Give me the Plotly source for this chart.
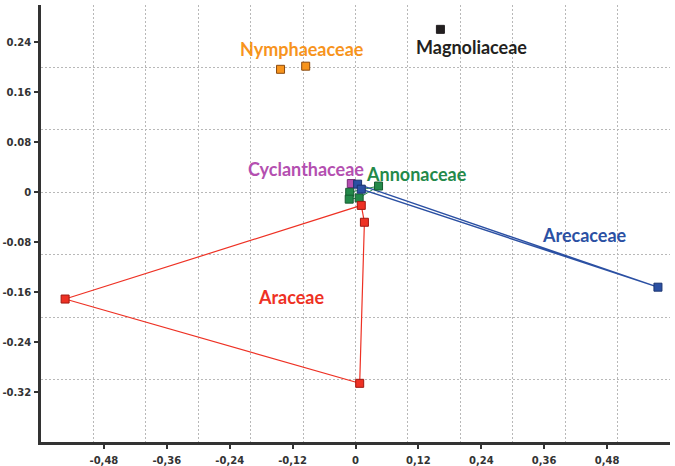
import plotly.graph_objects as go

# ---- data ----
nym_x = [-0.143, -0.095]
nym_y = [0.197, 0.202]
mag_x = [0.162]
mag_y = [0.261]
cyc_x = [-0.008]
cyc_y = [0.014]
ann_x = [-0.011, -0.012, 0.007, 0.044]
ann_y = [0.000, -0.011, -0.009, 0.010]
are_x = [0.004, 0.011, 0.577]
are_y = [0.013, 0.005, -0.152]
ara_x = [-0.554, 0.011, 0.017, 0.008]
ara_y = [-0.171, -0.021, -0.048, -0.306]

# hull orders (closed polygons)
ara_hull = [0, 1, 2, 3, 0]
are_hull = [0, 2, 1, 0]
ann_hull = [0, 3, 2, 1, 0]

x_ticks = [-0.48, -0.36, -0.24, -0.12, 0, 0.12, 0.24, 0.36, 0.48]
x_ticktext = ["-0,48", "-0,36", "-0,24", "-0,12", "0", "0,12", "0,24", "0,36", "0,48"]
y_ticks = [0.24, 0.16, 0.08, 0, -0.08, -0.16, -0.24, -0.32]
y_ticktext = ["0.24", "0.16", "0.08", "0", "-0.08", "-0.16", "-0.24", "-0.32"]
x_grid = [-0.5, -0.4, -0.3, -0.2, -0.1, 0, 0.1, 0.2, 0.3, 0.4, 0.5, 0.6]
y_grid = [-0.3, -0.2, -0.1, 0, 0.1, 0.2, 0.3]

labels = ["Nymphaeaceae", "Magnoliaceae", "Cyclanthaceae", "Annonaceae", "Arecaceae", "Araceae"]
label_x = [-0.103, 0.222, -0.095, 0.116, 0.436, -0.124]
label_y = [0.230, 0.232, 0.038, 0.030, -0.069, -0.168]
colors = ["#F7941D", "#231F20", "#B44FB0", "#23894A", "#2B50A3", "#EE3124"]
outlines = ["#8A4A10", "#231F20", "#7A2A78", "#145A30", "#1B3470", "#A01810"]

fig = go.Figure()

def hull(xs, ys, order, color, width):
    fig.add_trace(go.Scatter(x=[xs[i] for i in order], y=[ys[i] for i in order],
                             mode="lines", line=dict(color=color, width=width),
                             hoverinfo="skip", showlegend=False))

hull(ara_x, ara_y, ara_hull, colors[5], 1.2)
hull(ann_x, ann_y, ann_hull, colors[3], 1.0)
hull(are_x, are_y, are_hull, colors[4], 1.4)

groups = [(nym_x, nym_y), (mag_x, mag_y), (cyc_x, cyc_y), (ann_x, ann_y), (are_x, are_y), (ara_x, ara_y)]
for i, (gx, gy) in enumerate(groups):
    fig.add_trace(go.Scatter(x=gx, y=gy, mode="markers",
                             marker=dict(symbol="square", size=8, color=colors[i],
                                         line=dict(color=outlines[i], width=1)),
                             name=labels[i], showlegend=False))

for i, t in enumerate(labels):
    fig.add_annotation(x=label_x[i], y=label_y[i], text=t, showarrow=False,
                       font=dict(family="Lato", size=18, color=colors[i], weight="bold"))

tickfont = dict(family="DejaVu Sans", size=10, color="#333333", weight="bold")
grid = dict(showgrid=True, gridcolor="#B8B8B8", griddash="2px,2px", gridwidth=1, ticks="")
fig.update_xaxes(range=[-0.6, 0.6], tickvals=x_ticks, ticktext=x_ticktext, automargin=False,
                 showgrid=False, zeroline=False, showline=True, linecolor="#333333", linewidth=2.5,
                 ticks="outside", ticklen=4, tickwidth=2, tickcolor="#333333", tickfont=tickfont,
                 ticklabelstandoff=3,
                 minor=dict(tickvals=x_grid, **grid))
fig.update_yaxes(range=[-0.4, 0.3], tickvals=y_ticks, ticktext=y_ticktext, automargin=False,
                 showgrid=False, zeroline=False, showline=True, linecolor="#333333", linewidth=2.5,
                 ticks="outside", ticklen=4, tickwidth=2, tickcolor="#333333", tickfont=tickfont,
                 ticklabelstandoff=1,
                 minor=dict(tickvals=y_grid, **grid))
fig.update_layout(width=675, height=466, margin=dict(l=41, r=5, t=5, b=24),
                  plot_bgcolor="white", paper_bgcolor="white")
fig.write_html("out.html")
